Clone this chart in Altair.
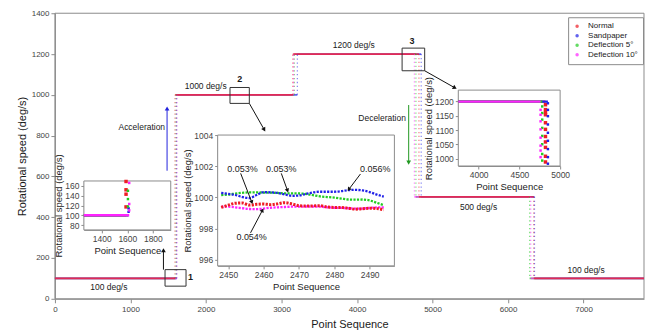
import altair as alt
import pandas as pd

FONT = "Liberation Sans"
AXC = "#8c8c8c"

# ---------------- data ----------------
SERIES = ["Normal", "Sandpaper", "Deflection 5°", "Deflection 10°"]
COLORS = ["#ee1c24", "#2020e8", "#22cc22", "#ff22ff"]

LEVELS = [100, 1000, 1200, 500, 100]
X_START, X_END = 0, 7800
RAMP_NORMAL = [1590, 3150, 4820, 6340]
RAMP_SANDPAPER = [1610, 3210, 4850, 6350]
RAMP_DEF5 = [1605, 3170, 4780, 6285]
RAMP_DEF10 = [1615, 3160, 4760, 6300]
RAMPS = [RAMP_NORMAL, RAMP_SANDPAPER, RAMP_DEF5, RAMP_DEF10]
MAIN_DRAW_ORDER = ["Sandpaper", "Deflection 5°", "Deflection 10°", "Normal"]

# inset 1 : points on the first acceleration
IN1_NORMAL = [117, 143, 152, 169]
IN1_SANDPAPER = [107, 114]
IN1_DEF5 = [118, 133, 150]
IN1_DEF10 = [110, 123, 166]
IN1_PTS = [IN1_NORMAL, IN1_SANDPAPER, IN1_DEF5, IN1_DEF10]

# inset 2 : steady 1000 deg/s
IN2_X = [2448, 2450, 2452, 2454, 2456, 2458, 2460, 2462, 2464, 2466, 2468, 2470,
         2472, 2474, 2476, 2478, 2480, 2482, 2484, 2486, 2488, 2490, 2492, 2494]
IN2_NORMAL = [999.35, 999.50, 999.62, 999.64, 999.50, 999.55, 999.57, 999.53, 999.58, 999.66, 999.58, 999.46,
              999.44, 999.45, 999.46, 999.38, 999.35, 999.35, 999.30, 999.24, 999.27, 999.30, 999.28, 999.20]
IN2_SANDPAPER = [1000.28, 1000.22, 1000.15, 1000.02, 999.95, 1000.15, 1000.33, 1000.32, 1000.28, 1000.18, 1000.10, 1000.12,
                 1000.22, 1000.32, 1000.36, 1000.36, 1000.36, 1000.40, 1000.46, 1000.48, 1000.44, 1000.34, 1000.18, 1000.05]
IN2_DEF5 = [1000.15, 1000.18, 1000.24, 1000.29, 1000.32, 1000.32, 1000.30, 1000.30, 1000.28, 1000.26, 1000.26, 1000.25,
            1000.22, 1000.14, 1000.06, 1000.02, 999.98, 999.92, 999.86, 999.85, 999.86, 999.80, 999.65, 999.50]
IN2_DEF10 = [999.40, 999.40, 999.36, 999.30, 999.25, 999.24, 999.28, 999.33, 999.36, 999.38, 999.40, 999.40,
             999.41, 999.41, 999.40, 999.36, 999.33, 999.32, 999.30, 999.27, 999.28, 999.32, 999.35, 999.36]
IN2_VALUES = [IN2_NORMAL, IN2_SANDPAPER, IN2_DEF5, IN2_DEF10]

# inset 3 : points on the 1200 -> 500 deceleration
IN3_NORMAL = [1189, 1172, 1162, 1154, 1126, 1103, 1078, 1059, 1040, 1009, 989]
IN3_SANDPAPER = [1194, 1171, 1149, 1120, 1091, 1063, 1034, 1006, 983]
IN3_DEF5 = [1183, 1160, 1137, 1108, 1080, 1051, 1017, 994]
IN3_DEF10 = [1171, 1154, 1131, 1103, 1074, 1046, 1029, 1006]
IN3_PTS = [IN3_NORMAL, IN3_SANDPAPER, IN3_DEF5, IN3_DEF10]

MAIN_XTICKS = [0, 1000, 2000, 3000, 4000, 5000, 6000, 7000]
MAIN_YTICKS = [0, 200, 400, 600, 800, 1000, 1200, 1400]
IN1_XTICKS = [1400, 1600, 1800]
IN1_YTICKS = [80, 100, 120, 140, 160]
IN2_XTICKS = [2450, 2460, 2470, 2480, 2490]
IN2_YTICKS = [996, 998, 1000, 1002, 1004]
IN3_XTICKS = [4000, 4500, 5000]
IN3_YTICKS = [1000, 1050, 1100, 1150, 1200]

# annotations (main data coordinates)
NOTE_TEXT = ["100 deg/s", "1000 deg/s", "1200 deg/s", "500 deg/s", "100 deg/s", "Acceleration", "Deceleration"]
NOTE_X = [714, 1996, 3957, 5609, 7033, 1150, 4332]
NOTE_Y = [59, 1044, 1243, 449, 143, 840, 886]
NUM_TEXT = ["1", "2", "3"]
NUM_X = [1794, 2446, 4729]
NUM_Y = [108, 1077, 1264]
BOX_X = [1458, 2318, 4597]
BOX_X2 = [1736, 2574, 4896]
BOX_Y = [62, 958, 1118]
BOX_Y2 = [143, 1036, 1229]
ARR_X = [1437, 2574, 4896, 1485, 4684]
ARR_Y = [143, 958, 1118, 628, 950]
ARR_XE = [1437, 2767, 5288, 1485, 4684]
ARR_YE = [235, 832, 1036, 930, 671]
ARR_C = ["#111111", "#111111", "#111111", "#2222dd", "#229922"]
ARR_ANGLE = [0, 150, 119, 0, 180]

# inset 2 annotations (inset 2 coordinates)
PCT_TEXT = ["0.053%", "0.053%", "0.056%", "0.054%"]
PCT_X = [2454.0, 2465.0, 2491.6, 2456.6]
PCT_Y = [1001.82, 1001.82, 1001.82, 997.46]
PA_X = [2453.5, 2465.0, 2487.4, 2456.3]
PA_Y = [1001.54, 1001.54, 1001.50, 997.72]
PA_XE = [2456.6, 2466.7, 2484.2, 2459.6]
PA_YE = [999.72, 1000.47, 1000.54, 999.14]
PA_ANGLE = [159, 160, 217, 28]

# ---------------- layout ----------------
W, H = 590, 286
IN1 = dict(xd=[1260, 1940], yd=[70, 170], xr=[29, 116], yr=[217, 168])
IN2 = dict(xd=[2447, 2497], yd=[995.6, 1004], xr=[163, 340], yr=[253, 122])
IN3 = dict(xd=[3750, 5000], yd=[975, 1240], xr=[404, 506], yr=[153, 77])


def axis(**kw):
    base = dict(grid=False, labelFlush=False, labelOverlap=False, domainColor=AXC, tickColor=AXC,
                labelColor="#444444", titleColor="#1a1a1a", labelFont=FONT, titleFont=FONT,
                titleFontWeight="normal", format="d")
    base.update(kw)
    return alt.Axis(**base)


def encs(xdom, ydom, xaxis, yaxis, xr=None, yr=None):
    xs = dict(domain=xdom, nice=False, zero=False)
    ys = dict(domain=ydom, nice=False, zero=False)
    if xr:
        xs["range"] = xr
    if yr:
        ys["range"] = yr
    return (alt.X("x:Q", scale=alt.Scale(**xs), axis=xaxis),
            alt.Y("y:Q", scale=alt.Scale(**ys), axis=yaxis))


def inset_axes(cfg, xt, yt):
    xa = axis(orient="bottom", offset=-(H - cfg["yr"][0]), values=xt, title="Point Sequence",
              titleFontSize=9.5, labelFontSize=8.5, tickSize=3, labelPadding=2, titlePadding=2)
    ya = axis(orient="left", offset=-cfg["xr"][0], values=yt, title="Rotational speed (deg/s)",
              titleFontSize=9.5, labelFontSize=8.5, tickSize=3, labelPadding=2, titlePadding=1)
    return encs(cfg["xd"], cfg["yd"], xa, ya, cfg["xr"], cfg["yr"])


LEGEND = alt.Legend(title=None, orient="none", legendX=514, legendY=4, padding=5,
                    strokeColor="#8c8c8c", fillColor="white", labelFontSize=8, labelFont=FONT,
                    labelColor="#1a1a1a", symbolType="circle", symbolSize=4, symbolStrokeWidth=1.5,
                    rowPadding=1.5, labelOffset=7, symbolOpacity=0.7)
COLOR = alt.Color("series:N", scale=alt.Scale(domain=SERIES, range=COLORS), legend=LEGEND)

# ---------------- tables ----------------
flat_rows, ramp_rows = [], []
for s, r in zip(SERIES, RAMPS):
    bounds = [X_START] + r + [X_END]
    for i, lvl in enumerate(LEVELS):
        flat_rows.append(dict(series=s, x=bounds[i], x2=bounds[i + 1], y=lvl))
    for i, rx in enumerate(r):
        ramp_rows.append(dict(series=s, x=rx, y=LEVELS[i], y2=LEVELS[i + 1]))
flat_df = pd.DataFrame(flat_rows)
flat_df["k"] = flat_df["series"].map({s: i for i, s in enumerate(MAIN_DRAW_ORDER)})
flat_df = flat_df.sort_values("k", kind="stable").drop(columns="k")
ramp_df = pd.DataFrame(ramp_rows)

# ---------------- main panel ----------------
main_xa = axis(values=MAIN_XTICKS, title="Point Sequence", labelFontSize=8, titleFontSize=11,
               tickSize=4, labelPadding=3, titlePadding=5)
main_ya = axis(values=MAIN_YTICKS, title="Rotational speed (deg/s)", labelFontSize=8,
               titleFontSize=11, tickSize=4, labelPadding=2, titlePadding=4)
MX, MY = encs([X_START, X_END], [0, 1400], main_xa, main_ya)

frame = alt.Chart(pd.DataFrame({"x": [X_START], "x2": [X_END], "y": [0], "y2": [1400]})).mark_rect(
    fillOpacity=0, stroke=AXC, strokeWidth=1).encode(x=MX, x2="x2:Q", y=MY, y2="y2:Q")
flats = alt.Chart(flat_df).mark_rule(strokeWidth=1.7, opacity=0.7).encode(
    x=MX, x2="x2:Q", y=MY, color=COLOR)
ramps = alt.Chart(ramp_df).mark_rule(strokeWidth=1.2, strokeDash=[1.3, 2.6], opacity=0.55).encode(
    x=MX, y=MY, y2="y2:Q", color=COLOR)
boxes = alt.Chart(pd.DataFrame({"x": BOX_X, "x2": BOX_X2, "y": BOX_Y, "y2": BOX_Y2})).mark_rect(
    fillOpacity=0, stroke="#333333", strokeWidth=1).encode(x=MX, x2="x2:Q", y=MY, y2="y2:Q")
arr_df = pd.DataFrame({"x": ARR_X, "y": ARR_Y, "x2": ARR_XE, "y2": ARR_YE, "c": ARR_C})
arr_lines = alt.Chart(arr_df).mark_rule(strokeWidth=1).encode(
    x=MX, x2="x2:Q", y=MY, y2="y2:Q", stroke=alt.Stroke("c:N", scale=None))
head_df = pd.DataFrame({"x": ARR_XE, "y": ARR_YE, "c": ARR_C, "a": ARR_ANGLE})
arr_heads = alt.Chart(head_df).mark_point(shape="triangle", filled=True, size=22, opacity=1,
                                          strokeWidth=0).encode(
    x=MX, y=MY, fill=alt.Fill("c:N", scale=None), angle=alt.Angle("a:Q", scale=None))
notes = alt.Chart(pd.DataFrame({"x": NOTE_X, "y": NOTE_Y, "t": NOTE_TEXT})).mark_text(
    fontSize=8.5, font=FONT, color="#1a1a1a").encode(x=MX, y=MY, text="t:N")
nums = alt.Chart(pd.DataFrame({"x": NUM_X, "y": NUM_Y, "t": NUM_TEXT})).mark_text(
    fontSize=9, font=FONT, fontWeight="bold", color="#1a1a1a").encode(x=MX, y=MY, text="t:N")

main = alt.layer(frame, flats, ramps, boxes, arr_lines, arr_heads, notes, nums)

# ---------------- inset 1 ----------------
X1, Y1 = inset_axes(IN1, IN1_XTICKS, IN1_YTICKS)
in1_frame = alt.Chart(pd.DataFrame({"x": [IN1["xd"][0]], "x2": [IN1["xd"][1]],
                                    "y": [IN1["yd"][0]], "y2": [IN1["yd"][1]]})).mark_rect(
    fill="white", stroke=AXC, strokeWidth=1).encode(x=X1, x2="x2:Q", y=Y1, y2="y2:Q")
in1_flat = alt.Chart(pd.DataFrame([dict(series=s, x=IN1["xd"][0], x2=r[0], y=LEVELS[0])
                                   for s, r in zip(SERIES, RAMPS)])).mark_rule(strokeWidth=2.4).encode(
    x=X1, x2="x2:Q", y=Y1, color=COLOR)
in1_pts = alt.Chart(pd.DataFrame([dict(series=s, x=r[0], y=v, big=(s == "Normal"))
                                  for s, r, vals in zip(SERIES, RAMPS, IN1_PTS) for v in vals])).mark_square(
    opacity=1).encode(x=X1, y=Y1, color=COLOR,
                      size=alt.Size("big:N", scale=alt.Scale(domain=[True, False], range=[12, 6]), legend=None))
inset1 = alt.layer(in1_frame, in1_flat, in1_pts)

# ---------------- inset 2 ----------------
X2, Y2 = inset_axes(IN2, IN2_XTICKS, IN2_YTICKS)
in2_frame = alt.Chart(pd.DataFrame({"x": [IN2["xd"][0]], "x2": [IN2["xd"][1]],
                                    "y": [IN2["yd"][0]], "y2": [IN2["yd"][1]]})).mark_rect(
    fill="white", stroke=AXC, strokeWidth=1).encode(x=X2, x2="x2:Q", y=Y2, y2="y2:Q")
in2_layers = []
for idx in [3, 2, 1, 0]:
    s = SERIES[idx]
    dfs = pd.DataFrame({"series": s, "x": IN2_X, "y": IN2_VALUES[idx]})
    w = 3.0 if s == "Normal" else 2.3
    in2_layers.append(alt.Chart(dfs).mark_line(strokeWidth=w, strokeDash=[2.2, 1.3],
                                               interpolate="monotone").encode(x=X2, y=Y2, color=COLOR))
pa_df = pd.DataFrame({"x": PA_X, "y": PA_Y, "x2": PA_XE, "y2": PA_YE})
in2_arr = alt.Chart(pa_df).mark_rule(strokeWidth=1, color="#111111").encode(
    x=X2, x2="x2:Q", y=Y2, y2="y2:Q")
in2_heads = alt.Chart(pd.DataFrame({"x": PA_XE, "y": PA_YE, "a": PA_ANGLE})).mark_point(
    shape="triangle", filled=True, size=20, opacity=1, strokeWidth=0, color="#111111").encode(
    x=X2, y=Y2, angle=alt.Angle("a:Q", scale=None))
in2_text = alt.Chart(pd.DataFrame({"x": PCT_X, "y": PCT_Y, "t": PCT_TEXT})).mark_text(
    fontSize=9, font=FONT, color="#1a1a1a").encode(x=X2, y=Y2, text="t:N")
inset2 = alt.layer(in2_frame, *in2_layers, in2_arr, in2_heads, in2_text)

# ---------------- inset 3 ----------------
X3, Y3 = inset_axes(IN3, IN3_XTICKS, IN3_YTICKS)
in3_frame = alt.Chart(pd.DataFrame({"x": [IN3["xd"][0]], "x2": [IN3["xd"][1]],
                                    "y": [IN3["yd"][0]], "y2": [IN3["yd"][1]]})).mark_rect(
    fill="white", stroke=AXC, strokeWidth=1).encode(x=X3, x2="x2:Q", y=Y3, y2="y2:Q")
in3_flat = alt.Chart(pd.DataFrame([dict(series=s, x=IN3["xd"][0], x2=r[2], y=LEVELS[2])
                                   for s, r in zip(SERIES, RAMPS)])).mark_rule(strokeWidth=2.4).encode(
    x=X3, x2="x2:Q", y=Y3, color=COLOR)
in3_pts = alt.Chart(pd.DataFrame([dict(series=s, x=r[2], y=v, big=(s == "Normal"))
                                  for s, r, vals in zip(SERIES, RAMPS, IN3_PTS) for v in vals])).mark_square(
    opacity=1).encode(x=X3, y=Y3, color=COLOR,
                      size=alt.Size("big:N", scale=alt.Scale(domain=[True, False], range=[12, 6]), legend=None))
inset3 = alt.layer(in3_frame, in3_flat, in3_pts)

chart = alt.layer(main, inset1, inset2, inset3).resolve_scale(
    x="independent", y="independent").properties(
    width=W, height=H, padding={"left": 8, "top": 1, "right": 0, "bottom": 0}
).configure(font=FONT).configure_view(strokeWidth=0)

chart.save("out.html", embed_options={"renderer": "svg", "actions": False})
